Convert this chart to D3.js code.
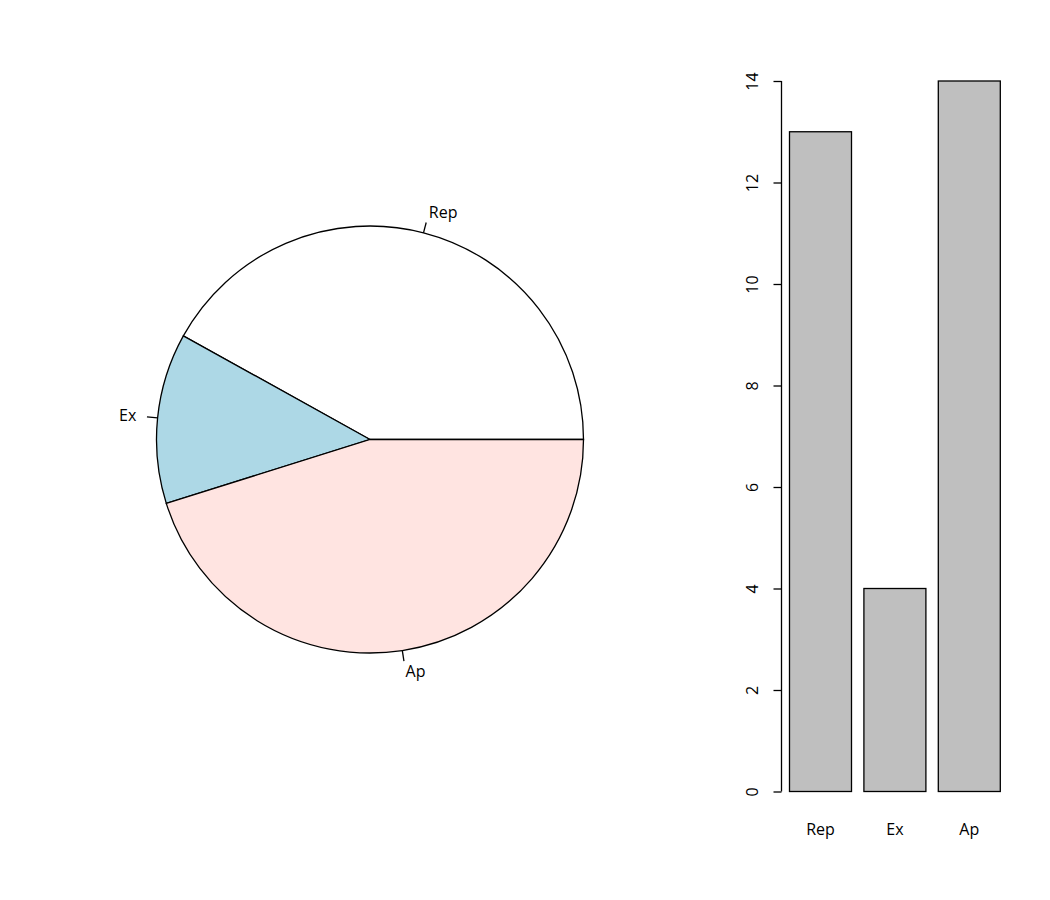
<!DOCTYPE html>
<html><head><meta charset="utf-8">
<script src="https://cdn.jsdelivr.net/npm/d3@7"></script>
<style>body{margin:0;background:#fff}svg{display:block}text{font-family:"Open Sans",sans-serif;font-size:16px;fill:#000}</style>
</head><body>
<svg id="c" width="1050" height="900"></svg>
<script>
const categories = ["Rep","Ex","Ap"];
const values = [13,4,14];
const pieColors = ["#FFFFFF","#ADD8E6","#FFE4E1"];
const yTicks = [0,2,4,6,8,10,12,14];

const svg = d3.select("#c");

// Pie (R-style: start at 3 o'clock, counter-clockwise)
const cx = 370, cy = 439.5, R = 213.5;
const total = d3.sum(values);
const ang = d3.scaleLinear().domain([0,total]).range([0, 2*Math.PI]);
const g = svg.append("g").attr("transform",`translate(${cx},${cy})`);
let cum = 0;
values.forEach((v,i)=>{
  const a0 = ang(cum), a1 = ang(cum+v); cum += v;
  const arc = d3.arc().innerRadius(0).outerRadius(R)
    .startAngle(Math.PI/2 - a1).endAngle(Math.PI/2 - a0);
  g.append("path").attr("d",arc()).attr("fill",pieColors[i]).attr("stroke","#000").attr("stroke-width",1.3);
  const m = (a0+a1)/2, c = Math.cos(m), s = -Math.sin(m);
  g.append("line").attr("x1",R*c).attr("y1",R*s).attr("x2",1.05*R*c).attr("y2",1.05*R*s)
    .attr("stroke","#000").attr("stroke-width",1.3);
  g.append("text").attr("x",1.1*R*c).attr("y",1.1*R*s).attr("dy","0.35em")
    .attr("text-anchor", c>0 ? "start" : "end").text(categories[i]);
});

// Bar chart
const y = d3.scaleLinear().domain([0,14]).range([791.5,81]);
const barW = 62, space = 12.4;
const xPos = categories.map((d,i)=> 789.5 + i*(barW+space));
svg.selectAll("rect.bar").data(values).enter().append("rect")
  .attr("x",(d,i)=>xPos[i]).attr("width",barW)
  .attr("y",d=>y(d)).attr("height",d=>y(0)-y(d))
  .attr("fill","#BFBFBF").attr("stroke","#000").attr("stroke-width",1.3);
svg.selectAll("text.bl").data(categories).enter().append("text")
  .attr("x",(d,i)=>xPos[i]+barW/2).attr("y",829.5).attr("dy","0.35em")
  .attr("text-anchor","middle").text(d=>d);

const axis = d3.axisLeft(y).tickValues(yTicks).tickSize(8).tickPadding(0).tickFormat(d3.format("d"));
const ag = svg.append("g").attr("transform","translate(781.5,0)").call(axis);
ag.select(".domain").remove();
ag.append("line").attr("x1",0).attr("x2",0).attr("y1",y(0)).attr("y2",y(14)).attr("stroke","#000").attr("stroke-width",1.3);
ag.selectAll(".tick line").attr("stroke","#000").attr("stroke-width",1.3);
ag.selectAll(".tick text").attr("x",0).attr("transform","translate(-29,0) rotate(-90)")
  .attr("text-anchor","middle").attr("dy","0.35em")
  .style("font-family",'"Open Sans",sans-serif').style("font-size","16px").attr("fill","#000");
</script>
</body></html>
